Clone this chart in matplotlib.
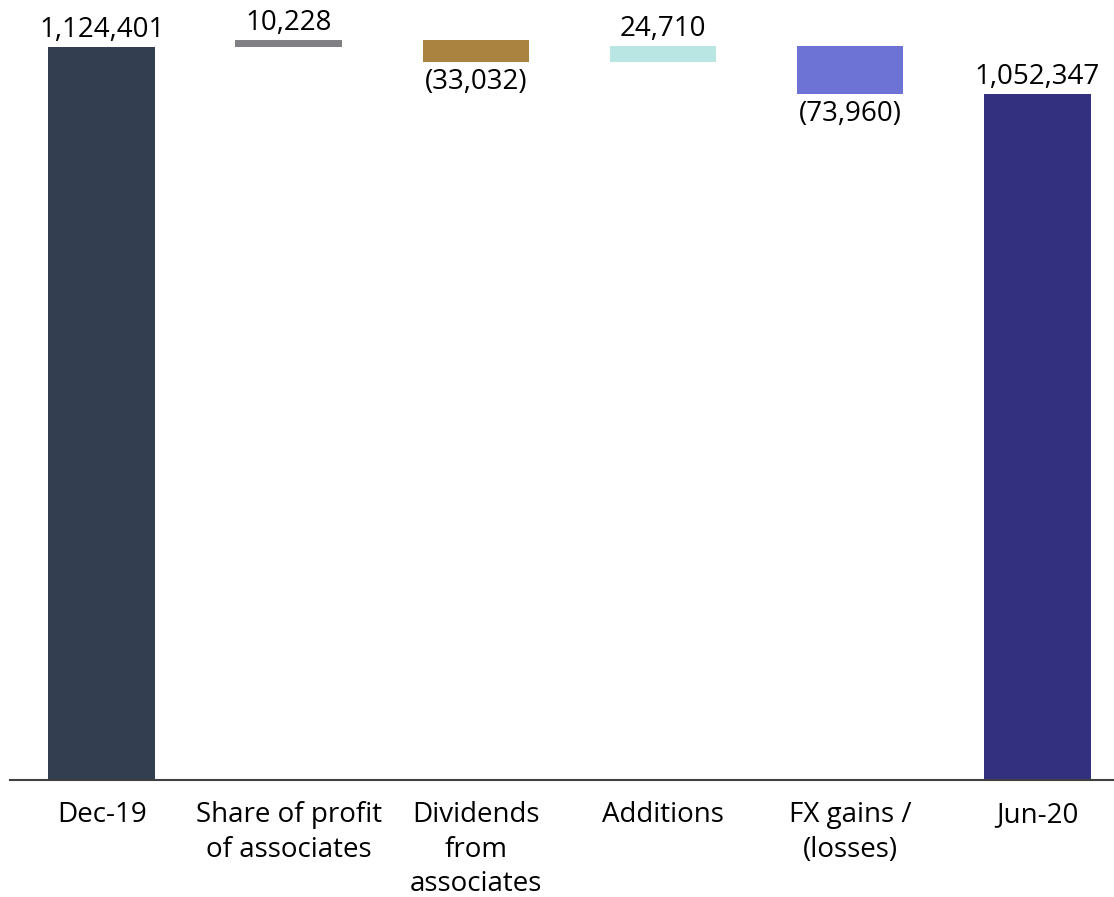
import matplotlib.pyplot as plt

plt.rcParams['font.family'] = ['Open Sans', 'DejaVu Sans']

categories = ['Dec-19', 'Share of profit\nof associates', 'Dividends\nfrom\nassociates',
              'Additions', 'FX gains /\n(losses)', 'Jun-20']
values = [1124401, 10228, -33032, 24710, -73960, 1052347]
is_total = [True, False, False, False, False, True]
colors = ['#333f50', '#7f7f84', '#aa8340', '#b9e5e3', '#6c73d4', '#333080']

fig = plt.figure(figsize=(11.14, 8.97), dpi=100)
ax = fig.add_axes([0.009, 0.1304, 0.991, 0.8696])

running = 0
for i, (v, tot) in enumerate(zip(values, is_total)):
    if tot:
        bottom, height = 0, v
        running = v
    else:
        bottom = running if v > 0 else running + v
        height = abs(v)
        running += v
    ax.bar(i, height, bottom=bottom, width=0.57, color=colors[i])
    txt = f'{abs(v):,}' if v > 0 else f'({abs(v):,})'
    if v > 0:
        ax.text(i, bottom + height + 4500, txt, ha='center', va='bottom', fontsize=20)
    else:
        ax.text(i, bottom - 9000, txt, ha='center', va='top', fontsize=20)

ax.set_xlim(-0.49, 5.41)
ax.set_ylim(0, 1196500)
for s in ['top', 'right', 'left']:
    ax.spines[s].set_visible(False)
ax.spines['bottom'].set_color('#404040')
ax.spines['bottom'].set_linewidth(1.5)
ax.set_yticks([])
ax.set_xticks(range(len(categories)))
ax.set_xticklabels(categories, fontsize=20, va='top', linespacing=1.32)
ax.tick_params(axis='x', length=0, pad=15)

fig.savefig('out.png', dpi=100)
